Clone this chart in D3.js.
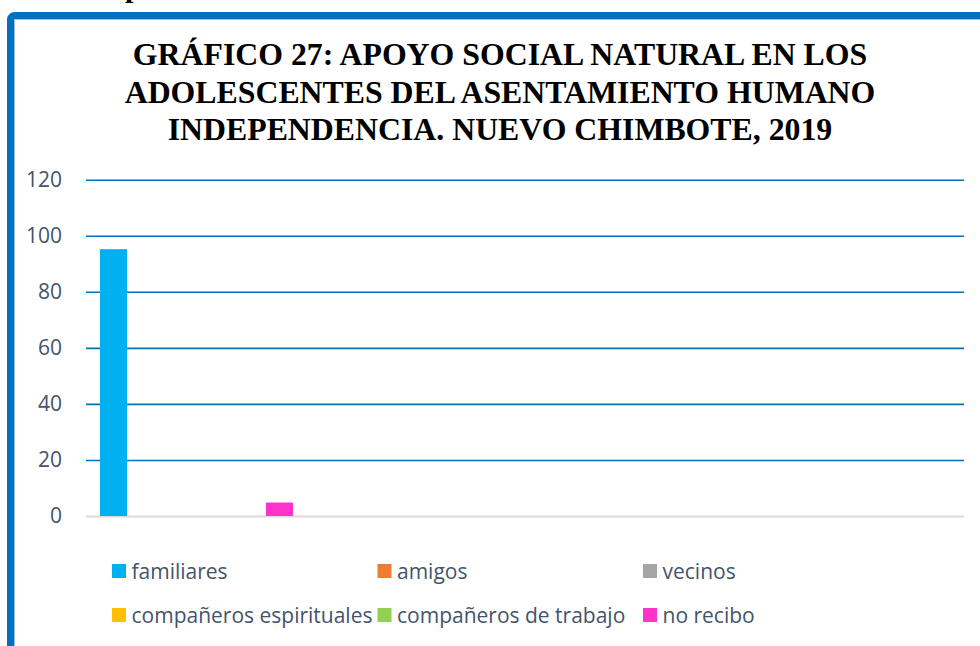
<!DOCTYPE html>
<html>
<head>
<meta charset="utf-8">
<script src="https://cdn.jsdelivr.net/npm/d3@7"></script>
<style>
  body { margin: 0; background: #fff; }
  svg { display: block; }
</style>
</head>
<body>
<svg id="visual_view" width="980" height="646"></svg>
<script>
var titleLines = ["GRÁFICO 27: APOYO SOCIAL NATURAL EN LOS",
                  "ADOLESCENTES DEL ASENTAMIENTO HUMANO",
                  "INDEPENDENCIA. NUEVO CHIMBOTE, 2019"];
var categories = ["Apoyo social natural"];
var series = ["familiares", "amigos", "vecinos", "compañeros espirituales", "compañeros de trabajo", "no recibo"];
var values = [95.2, 0, 0, 0, 0, 4.8];
var colors = ["#00b0f0", "#ed7d31", "#a5a5a5", "#ffc000", "#92d050", "#ff33cc"];
var yTicks = [0, 20, 40, 60, 80, 100, 120];

Visualizer = function() {
    this.viewer = d3.select('#visual_view');
    this.label_color = "#44546a";
    this.label_font = "'Open Sans', sans-serif";

    this.render = function() {
        this.draw_frame();
        this.draw_title();
        this.draw_axis();
        this.draw_bars();
        this.draw_legend();
    }

    this.draw_frame = function() {
        // cut-off line of the page text above the chart
        this.viewer.append("text")
            .attr("x", 125).attr("y", -3)
            .attr("font-family", "'Liberation Serif', serif")
            .attr("font-weight", "bold").attr("font-size", 30)
            .text("p");
        this.viewer.append("rect")
            .attr("x", 10.5).attr("y", 15.5)
            .attr("width", 1100).attr("height", 800)
            .attr("rx", 4)
            .attr("fill", "#fff")
            .attr("stroke", "#0070c0").attr("stroke-width", 7);
        this.viewer.append("rect")
            .attr("x", 14.5).attr("y", 19.5)
            .attr("width", 1100).attr("height", 800)
            .attr("fill", "none")
            .attr("stroke", "#9dc3e6").attr("stroke-width", 1);
    }

    this.draw_title = function() {
        this.viewer.append("g").selectAll("text").data(titleLines)
            .enter().append("text")
            .attr("x", 500)
            .attr("y", function(d, i) {return 65 + i * 37.5})
            .attr("text-anchor", "middle")
            .attr("font-family", "'Liberation Serif', 'Times New Roman', serif")
            .attr("font-weight", "bold")
            .attr("font-size", 31.8)
            .attr("fill", "#000")
            .text(function(d) {return d});
    }

    this.y = d3.scaleLinear().domain([0, 120]).range([516, 179.7]);
    this.x0 = d3.scaleBand().domain(categories).range([86, 305.5]);
    this.x1 = d3.scaleBand().domain(series).range([96.9, 296.1])
        .paddingInner(0.187).paddingOuter(0.0935);

    this.draw_axis = function() {
        var axis = d3.axisLeft(this.y).tickValues(yTicks).tickSize(-878).tickPadding(24);
        var g = this.viewer.append("g")
            .attr("transform", "translate(86,0)")
            .call(axis);
        g.select(".domain").remove();
        g.selectAll(".tick line")
            .attr("stroke", function(d) {return d === 0 ? "#d9d9d9" : "#0070c0"})
            .attr("stroke-width", function(d) {return d === 0 ? 2 : 1.6});
        g.selectAll(".tick text")
            .attr("font-family", this.label_font)
            .attr("font-size", 21)
            .attr("fill", this.label_color);
    }

    this.draw_bars = function() {
        var y = this.y, x1 = this.x1;
        var rows = series.map(function(s, i) {return {name: s, value: values[i], color: colors[i]}});
        this.viewer.append("g").selectAll("rect").data(rows.filter(function(d) {return d.value > 0}))
            .enter().append("rect")
            .attr("x", function(d) {return x1(d.name)})
            .attr("y", function(d) {return y(d.value)})
            .attr("width", x1.bandwidth())
            .attr("height", function(d) {return y(0) - y(d.value)})
            .attr("fill", function(d) {return d.color});
    }

    this.draw_legend = function() {
        var self = this;
        var items = this.viewer.append("g").selectAll("g").data(series)
            .enter().append("g")
            .attr("transform", function(d, i) {
                return "translate(" + (112 + (i % 3) * 265.5) + "," + (564 + Math.floor(i / 3) * 44) + ")";
            });
        items.append("rect")
            .attr("width", 14).attr("height", 14)
            .attr("fill", function(d, i) {return colors[i]});
        items.append("text")
            .attr("x", 19.5).attr("y", 14.5)
            .attr("font-family", self.label_font)
            .attr("font-size", 21)
            .attr("fill", self.label_color)
            .text(function(d) {return d});
    }
}

new Visualizer().render();
</script>
</body>
</html>
